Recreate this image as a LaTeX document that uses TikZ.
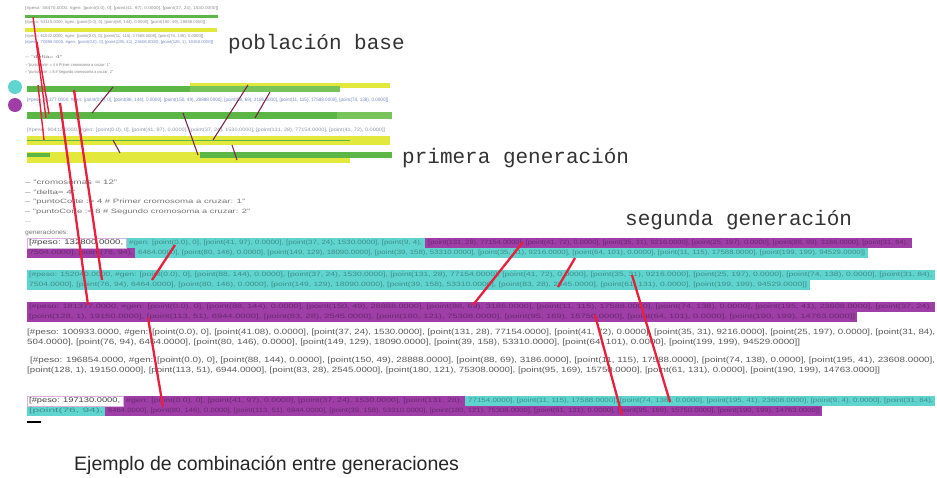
\documentclass[tikz,border=0pt]{standalone}
\usepackage{fontspec}
\setmainfont{Liberation Sans}
\newfontfamily\labelfont{Liberation Mono}
\definecolor{cyanbar}{RGB}{96,212,206}
\definecolor{magbar}{RGB}{158,62,166}
\definecolor{greenbar}{RGB}{92,182,70}
\definecolor{lightgreen}{RGB}{120,196,90}
\definecolor{yellowbar}{RGB}{226,232,60}
\definecolor{crossred}{RGB}{232,32,62}
\definecolor{cutdark}{RGB}{120,40,72}
\definecolor{inkblue}{RGB}{120,140,200}
\tikzset{
  genlabel/.style={anchor=west, inner sep=0pt, text=black!80,
    font=\labelfont\fontsize{21}{21}\selectfont},
  txt/.style={anchor=west, inner sep=0pt, text=#1},
  bartxt/.style={anchor=west, inner sep=0pt, text=#1, text opacity=0.6},
  cross/.style={draw=crossred, line width=2.3pt},
  cut/.style={draw=cutdark, line width=1.1pt},
}
% one line of small text stretched to its width
\newcommand{\tline}[7]{\node[txt=#2] (#1) at (#3,#4) {\resizebox{#5pt}{#6pt}{#7}};}
\newcommand{\bline}[6]{\node[bartxt=#1] at (#2,#3) {\resizebox{#4pt}{#5pt}{#6}};}
\begin{document}
\begin{tikzpicture}[x=1pt, y=-1pt]
  \fill[white] (0,0) rectangle (937,477);
  \useasboundingbox (0,0) rectangle (937,477);

  % poblacion base
  \tline{p1}{black!45}{25}{8}{193}{3}{[\#peso: 38470.0000, \#gen: [point(0.0), 0], [point(41, 97), 0.0000], [point(37, 24), 1530.0000]]}
  \fill[greenbar] (25,15) rectangle (218,18);
  \tline{p2}{black!45}{25}{22}{180}{3}{[\#peso: 52115.0000, \#gen: [point(0.0), 0], [point(88, 144), 0.0000], [point(150, 49), 28888.0000]]}
  \fill[yellowbar] (25,28) rectangle (217,32);
  \tline{p3}{black!45}{25}{36}{178}{3}{[\#peso: 61032.0000, \#gen: [point(0.0), 0], [point(11, 115), 17588.0000], [point(74, 138), 0.0000]]}
  \tline{p4}{inkblue}{25}{42}{188}{3}{[\#peso: 70958.0000, \#gen: [point(0.0), 0], [point(195, 41), 23608.0000], [point(128, 1), 19150.0000]]}
  \tline{p5}{black!50}{25}{57}{37}{3}{-- "delta= 4"}
  \tline{p6}{black!50}{25}{65}{85}{3}{-- "puntoCorte := 4 \# Primer cromosoma a cruzar: 1"}
  \tline{p7}{black!50}{25}{72}{88}{3}{-- "puntoCorte := 8 \# Segundo cromosoma a cruzar: 2"}
  \node[genlabel] (base) at (228,44) {población base};

  % leyenda
  \fill[cyanbar] (15,87) circle (7);
  \fill[magbar] (15,105) circle (7);

  % primera generacion
  \fill[yellowbar] (190,83) rectangle (390,88);
  \fill[lightgreen] (190,86) rectangle (340,92);
  \fill[greenbar] (27,86) rectangle (190,92);
  \tline{g1}{inkblue}{27}{100}{361}{3.5}{[\#peso: 81377.0000, \#gen: [point(0.0), 0], [point(88, 144), 0.0000], [point(150, 49), 28888.0000], [point(88, 69), 3186.0000], [point(11, 115), 17588.0000], [point(74, 138), 0.0000]]}
  \fill[lightgreen] (337,112) rectangle (392,119);
  \fill[greenbar] (27,112) rectangle (337,119);
  \tline{g2}{inkblue!60!black!60}{27}{130}{358}{3.5}{[\#peso: 90412.0000, \#gen: [point(0.0), 0], [point(41, 97), 0.0000], [point(37, 24), 1530.0000], [point(131, 28), 77154.0000], [point(41, 72), 0.0000]]}
  \fill[yellowbar] (27,136) rectangle (390,145);
  \draw[greenbar, line width=1pt] (27,140) -- (350,140);
  \fill[yellowbar] (27,152) rectangle (350,163);
  \fill[greenbar] (200,152) rectangle (392,158);
  \fill[greenbar] (27,153) rectangle (50,157);
  \node[genlabel] (gen1) at (402,158) {primera generación};

  % parametros
  \tline{q1}{black!55}{25}{182}{92}{4.5}{-- "cromosomas = 12"}
  \tline{q2}{black!55}{25}{192}{50}{4.5}{-- "delta= 4"}
  \tline{q3}{black!55}{25}{202}{220}{4.5}{-- "puntoCorte := 4 \# Primer cromosoma a cruzar: 1"}
  \tline{q4}{black!55}{25}{212}{225}{4.5}{-- "puntoCorte := 8 \# Segundo cromosoma a cruzar: 2"}
  \tline{q5}{black!55}{25}{222}{6}{1}{--}
  \tline{q6}{black!55}{25}{233}{43}{4.5}{generaciones:}
  \node[genlabel] (gen2) at (625,220) {segunda generación};

  % segunda generacion
  \fill[cyanbar] (126,238) rectangle (425,248);
  \fill[magbar] (425,238) rectangle (912,248);
  \fill[magbar] (27,248) rectangle (135,258);
  \fill[cyanbar] (135,248) rectangle (868,258);
  \draw[magbar!40] (27,238) rectangle (126,248);
  \tline{a0}{black!75}{29}{243}{94}{5}{[\#peso: 132800.0000,}
  \bline{cyanbar!45!black}{129}{243}{293}{4.5}{\#gen: [point(0.0), 0], [point(41, 97), 0.0000], [point(37, 24), 1530.0000], [point(9, 4),}
  \bline{magbar!45!black}{428}{243}{480}{4.5}{[point(131, 28), 77154.0000], [point(41, 72), 0.0000], [point(35, 31), 9216.0000], [point(25, 197), 0.0000], [point(88, 69), 3186.0000], [point(31, 84),}
  \bline{magbar!45!black}{29}{253}{104}{4.5}{7504.0000], [point(76, 94),}
  \bline{cyanbar!45!black}{138}{253}{727}{4.5}{6464.0000], [point(80, 146), 0.0000], [point(149, 129), 18090.0000], [point(39, 158), 53310.0000], [point(35, 31), 9216.0000], [point(64, 101), 0.0000], [point(11, 115), 17588.0000], [point(199, 199), 94529.0000]]}

  \fill[cyanbar] (27,270) rectangle (935,280);
  \fill[cyanbar] (27,280) rectangle (810,290);
  \bline{cyanbar!45!black}{29}{275}{903}{4.5}{[\#peso: 152040.0000, \#gen: [point(0.0), 0], [point(88, 144), 0.0000], [point(37, 24), 1530.0000], [point(131, 28), 77154.0000], [point(41, 72), 0.0000], [point(35, 31), 9216.0000], [point(25, 197), 0.0000], [point(74, 138), 0.0000], [point(31, 84),}
  \bline{cyanbar!45!black}{29}{285}{778}{4.5}{7504.0000], [point(76, 94), 6464.0000], [point(80, 146), 0.0000], [point(149, 129), 18090.0000], [point(39, 158), 53310.0000], [point(83, 28), 2545.0000], [point(61, 131), 0.0000], [point(199, 199), 94529.0000]]}

  \fill[magbar] (27,302) rectangle (935,312);
  \fill[magbar] (27,312) rectangle (857,322);
  \bline{magbar!45!black}{29}{307}{903}{4.5}{[\#peso: 181377.0000, \#gen: [point(0.0), 0], [point(88, 144), 0.0000], [point(150, 49), 28888.0000], [point(88, 69), 3186.0000], [point(11, 115), 17588.0000], [point(74, 138), 0.0000], [point(195, 41), 23608.0000], [point(37, 24),}
  \bline{magbar!45!black}{29}{317}{826}{4.5}{[point(128, 1), 19150.0000], [point(113, 51), 6944.0000], [point(83, 28), 2545.0000], [point(180, 121), 75308.0000], [point(95, 169), 15750.0000], [point(64, 101), 0.0000], [point(190, 199), 14763.0000]]}

  \tline{d1}{black!65}{27}{333}{908}{5.5}{[\#peso: 100933.0000, \#gen: [point(0.0), 0], [point(41.08), 0.0000], [point(37, 24), 1530.0000], [point(131, 28), 77154.0000], [point(41, 72), 0.0000], [point(35, 31), 9216.0000], [point(25, 197), 0.0000], [point(31, 84),}
  \tline{d2}{black!65}{27}{343}{773}{5.5}{504.0000], [point(76, 94), 6464.0000], [point(80, 146), 0.0000], [point(149, 129), 18090.0000], [point(39, 158), 53310.0000], [point(64, 101), 0.0000], [point(199, 199), 94529.0000]]}
  \tline{e1}{black!65}{30}{361}{905}{5.5}{[\#peso: 196854.0000, \#gen: [point(0.0), 0], [point(88, 144), 0.0000], [point(150, 49), 28888.0000], [point(88, 69), 3186.0000], [point(11, 115), 17588.0000], [point(74, 138), 0.0000], [point(195, 41), 23608.0000],}
  \tline{e2}{black!65}{27}{371}{853}{5.5}{[point(128, 1), 19150.0000], [point(113, 51), 6944.0000], [point(83, 28), 2545.0000], [point(180, 121), 75308.0000], [point(95, 169), 15750.0000], [point(61, 131), 0.0000], [point(190, 199), 14763.0000]]}

  \fill[magbar] (123,396) rectangle (465,406);
  \fill[cyanbar] (465,396) rectangle (935,406);
  \fill[cyanbar] (27,406) rectangle (105,416);
  \fill[magbar] (105,406) rectangle (822,416);
  \draw[magbar!40] (27,396) rectangle (123,406);
  \tline{f0}{black!75}{29}{401}{91}{5}{[\#peso: 197130.0000,}
  \bline{magbar!45!black}{126}{401}{336}{4.5}{\#gen: [point(0.0), 0], [point(41, 97), 0.0000], [point(37, 24), 1530.0000], [point(131, 28),}
  \bline{cyanbar!45!black}{468}{401}{465}{4.5}{77154.0000], [point(11, 115), 17588.0000], [point(74, 138), 0.0000], [point(195, 41), 23608.0000], [point(9, 4), 0.0000], [point(31, 84),}
  \bline{cyanbar!45!black}{29}{411}{74}{4.5}{[point(76, 94),}
  \bline{magbar!45!black}{108}{411}{712}{4.5}{6464.0000], [point(80, 146), 0.0000], [point(113, 51), 6944.0000], [point(39, 158), 53310.0000], [point(180, 121), 75308.0000], [point(61, 131), 0.0000], [point(95, 169), 15750.0000], [point(190, 199), 14763.0000]]}
  \draw[black, line width=1.5pt] (27,422) -- (41,422);

  % cruces
  \foreach \xa/\ya/\xb/\yb in {92/113/113/87, 113/140/120/153, 183/113/198/155,
      213/140/248/85, 255/118/270/92, 232/145/237/160}
    \draw[cut] (\xa,\ya) -- (\xb,\yb);
  \foreach \xa/\ya/\xb/\yb in {33/17/46/118, 37/42/49/114, 38/85/44/140}
    \draw[cross, line width=1.4pt] (\xa,\ya) -- (\xb,\yb);
  \foreach \xa/\ya/\xb/\yb in {60/103/88/305, 74/90/102/280, 148/318/163/407,
      152/280/175/245, 473/305/523/242, 558/287/575/258, 632/275/670/402,
      595/315/622/415}
    \draw[cross] (\xa,\ya) -- (\xb,\yb);

  \node[anchor=west, inner sep=0pt, text=black!85, font=\fontsize{19.5}{19.5}\selectfont]
    (caption) at (74,465) {Ejemplo de combinación entre generaciones};
\end{tikzpicture}
\end{document}
